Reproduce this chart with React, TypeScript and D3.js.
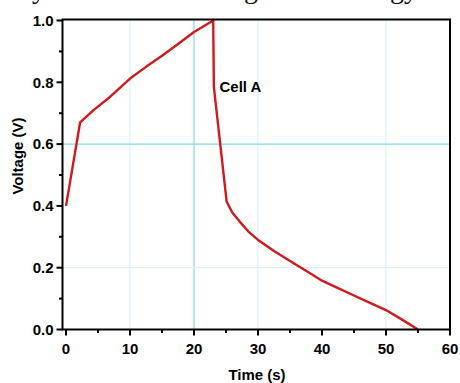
import React, { useEffect } from "react";
import * as d3 from "d3";

// Cell A voltage during charge (rise to 1.0 V) and discharge (fall to 0 V)
const chargeTime = [0, 2.2, 4.3, 7, 10, 12.5, 15, 17.5, 20, 23];
const chargeVoltage = [0.4, 0.67, 0.71, 0.755, 0.812, 0.85, 0.886, 0.924, 0.963, 1.0];
const dischargeTime = [23.1, 25.1, 26, 27.1, 28.5, 30, 32.5, 35, 37.5, 40, 42.5, 45, 47.5, 50, 52.5, 55];
const dischargeVoltage = [
  0.785, 0.414, 0.378, 0.35, 0.317, 0.29, 0.254, 0.222, 0.19, 0.158, 0.134, 0.11, 0.086, 0.063, 0.032, 0.0,
];

const xTicks = [0, 10, 20, 30, 40, 50, 60];
const xMinorTicks = [5, 15, 25, 35, 45, 55];
const yTicks = [0, 0.2, 0.4, 0.6, 0.8, 1.0];
const yMinorTicks = [0.1, 0.3, 0.5, 0.7, 0.9];
const xGrid = [10, 20, 30, 50];
const yGrid = [0.2, 0.6];
const strongGridX = [20];
const strongGridY = [0.6];

const W = 460;
const H = 383;
const FONT = "'Liberation Sans', Arial, sans-serif";

export default function App() {
  useEffect(() => {
    document.body.style.margin = "0";
  }, []);

  const x = d3.scaleLinear().domain([-0.55, 60]).range([62.5, 450]);
  const y = d3.scaleLinear().domain([0, 1]).range([329.5, 20.5]);
  const [x0, x1] = x.range();
  const [yb, yt] = [y(0), 19.5];

  const points: [number, number][] = [
    ...chargeTime.map((t, i) => [t, chargeVoltage[i]] as [number, number]),
    ...dischargeTime.map((t, i) => [t, dischargeVoltage[i]] as [number, number]),
  ];
  const line = d3
    .line<[number, number]>()
    .x((d) => x(d[0]))
    .y((d) => y(d[1]));

  return (
    <svg width={W} height={H} style={{ position: "absolute", left: 0, top: 0, background: "#fff" }}>
      {/* caption line above the plot, mostly outside the view */}
      <g fontFamily="'Liberation Serif', 'Times New Roman', serif" fontSize={28} fill="#111">
        <text x={46} y={-2.5} textAnchor="end">stored by</text>
        <text x={258} y={-2.5} textAnchor="end">the cell during</text>
        <text x={418} y={-2.5} textAnchor="end">stored energy</text>
      </g>

      {/* grid */}
      {xGrid.map((v) => (
        <line
          key={"gx" + v}
          x1={x(v)}
          x2={x(v)}
          y1={yt}
          y2={yb}
          stroke={strongGridX.includes(v) ? "#86d9e2" : "#daf3f6"}
          strokeWidth={1.2}
        />
      ))}
      {yGrid.map((v) => (
        <line
          key={"gy" + v}
          x1={x0}
          x2={x1}
          y1={y(v)}
          y2={y(v)}
          stroke={strongGridY.includes(v) ? "#86d9e2" : "#daf3f6"}
          strokeWidth={1.2}
        />
      ))}

      {/* data */}
      <path d={line(points) || ""} fill="none" stroke="#d01a1e" strokeWidth={2.4} strokeLinejoin="round" />

      {/* frame */}
      <rect x={x0} y={yt} width={x1 - x0} height={yb - yt} fill="none" stroke="#000" strokeWidth={2} />

      {/* x ticks */}
      {xTicks.map((v) => (
        <g key={"xt" + v}>
          <line x1={x(v)} x2={x(v)} y1={yb} y2={yb + 6} stroke="#000" strokeWidth={2} />
          <text x={x(v)} y={354} textAnchor="middle" fontFamily={FONT} fontWeight="bold" fontSize={15}>
            {v}
          </text>
        </g>
      ))}
      {xMinorTicks.map((v) => (
        <line key={"xm" + v} x1={x(v)} x2={x(v)} y1={yb} y2={yb + 3.5} stroke="#000" strokeWidth={2} />
      ))}

      {/* y ticks */}
      {yTicks.map((v) => (
        <g key={"yt" + v}>
          <line x1={x0 - 6} x2={x0} y1={y(v)} y2={y(v)} stroke="#000" strokeWidth={2} />
          <text
            x={53.5}
            y={y(v) + 5.3}
            textAnchor="end"
            fontFamily={FONT}
            fontWeight="bold"
            fontSize={15}
          >
            {v.toFixed(1)}
          </text>
        </g>
      ))}
      {yMinorTicks.map((v) => (
        <line key={"ym" + v} x1={x0 - 3.5} x2={x0} y1={y(v)} y2={y(v)} stroke="#000" strokeWidth={2} />
      ))}

      {/* axis titles */}
      <text x={257} y={380} textAnchor="middle" fontFamily={FONT} fontWeight="bold" fontSize={15}>
        Time (s)
      </text>
      <text
        transform="translate(23,156) rotate(-90)"
        textAnchor="middle"
        fontFamily={FONT}
        fontWeight="bold"
        fontSize={15}
      >
        Voltage (V)
      </text>

      {/* curve label */}
      <text x={219.5} y={92} fontFamily={FONT} fontWeight="bold" fontSize={15}>
        Cell A
      </text>
    </svg>
  );
}
